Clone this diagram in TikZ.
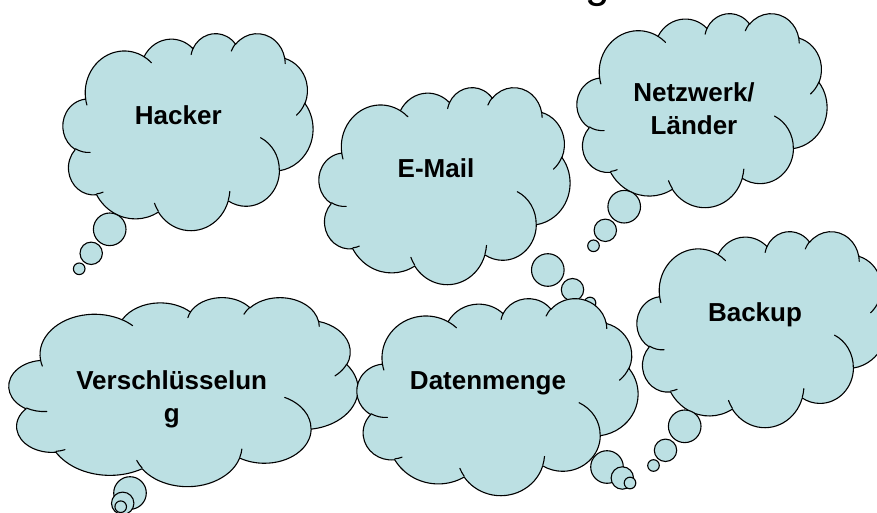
\documentclass[tikz,border=0pt]{standalone}
\usepackage{fontspec}
\setmainfont{Liberation Sans}
\definecolor{cloudfill}{RGB}{188,224,227}
\tikzset{
  cloudline/.style={draw=black, line width=1.1pt, fill=cloudfill, line join=round},
  creaseline/.style={draw=black, line width=1.1pt, line cap=round},
  tailbubble/.style={draw=black, line width=1.1pt, fill=cloudfill},
  cloudtext/.style={font=\bfseries\fontsize{26}{33}\selectfont, align=center, inner sep=0pt, text=black},
  titletext/.style={font=\fontsize{44}{50}\selectfont, inner sep=0pt, anchor=base west},
}
% cloud outline: x0 y0 w h (pixel box, y downward)
\newcommand\cloudoutline[4]{%
  \path[cloudline, shift={(#1,-#2)}, xscale=#3/43.2, yscale=-#4/43.2]
    (3.9,14.37)
    arc[start angle=172.25, end angle=300.36, x radius=6.753, y radius=9.19]
    arc[start angle=-152.02, end angle=-45.45, x radius=5.333, y radius=7.267]
    arc[start angle=-153.49, end angle=-37.33, x radius=4.365, y radius=5.945]
    arc[start angle=-139.71, end angle=-10.21, x radius=4.857, y radius=6.595]
    arc[start angle=-74.77, end angle=23.21, x radius=5.333, y radius=7.273]
    arc[start angle=-37.50, end angle=81.86, x radius=6.775, y radius=9.22]
    arc[start angle=0.46, end angle=121.98, x radius=5.785, y radius=7.867]
    arc[start angle=16.84, end angle=146.21, x radius=6.752, y radius=9.215]
    arc[start angle=58.98, end angle=150.17, x radius=7.72, y radius=10.543]
    arc[start angle=83.31, end angle=223.10, x radius=4.36, y radius=5.918]
    arc[start angle=120.36, end angle=264.11, x radius=4.345, y radius=5.945]
    -- cycle;}
\newcommand\cloudcreases[4]{%
  \path[creaseline, shift={(#1,-#2)}, xscale=#3/43.2, yscale=-#4/43.2]
    (4.693,26.177) arc[start angle=85.55, end angle=120.36, x radius=4.345, y radius=5.945]
    (6.928,34.899) arc[start angle=68.24, end angle=83.31, x radius=4.36, y radius=5.918]
    (16.478,39.09) arc[start angle=146.21, end angle=158.48, x radius=6.752, y radius=9.215]
    (28.827,34.751) arc[start angle=4.74, end angle=16.84, x radius=6.752, y radius=9.215]
    (34.129,22.954) arc[start angle=-64.03, end angle=0.46, x radius=5.785, y radius=7.867]
    (41.798,15.354) arc[start angle=23.21, end angle=49.63, x radius=5.333, y radius=7.273]
    (38.324,5.426) arc[start angle=-10.21, end angle=0.82, x radius=4.857, y radius=6.595]
    (29.078,3.952) arc[start angle=-156.29, end angle=-139.71, x radius=4.857, y radius=6.595]
    (22.141,4.72) arc[start angle=-167.73, end angle=-153.49, x radius=4.365, y radius=5.945]
    (14.0,5.192) arc[start angle=-59.64, end angle=-45.73, x radius=6.753, y radius=9.19]
    (4.127,15.789) arc[start angle=163.19, end angle=172.25, x radius=6.753, y radius=9.19];}
\newcommand\tailbubbles[6]{%
  \path[tailbubble] (#1,-#2) circle[radius=16.3];
  \path[tailbubble] (#3,-#4) circle[radius=11.2];
  \path[tailbubble] (#5,-#6) circle[radius=5.8];}
\begin{document}
\begin{tikzpicture}[x=1pt,y=1pt]
\useasboundingbox (0,0) rectangle (877,-513);
\clip (0,0) rectangle (877,-513);
\node[titletext] (titleg) at (585.5,2.5) {g};
% Hacker
\cloudoutline{63}{33}{250}{197}
\tailbubbles{109.7}{229.3}{91.2}{253.3}{79.2}{268.8}
\cloudcreases{63}{33}{250}{197}
\node[cloudtext, anchor=base] (hacker) at (178.3,-125) {Hacker};
% E-Mail
\cloudoutline{319}{87}{251}{197}
\tailbubbles{547.8}{270}{572.5}{289.7}{590}{303}
\cloudcreases{319}{87}{251}{197}
\node[cloudtext, anchor=base] (email) at (436,-177.7) {E-Mail};
% Netzwerk
\cloudoutline{577}{13}{250}{194}
\tailbubbles{624.2}{206.7}{605.3}{230.3}{593.5}{245.8}
\cloudcreases{577}{13}{250}{194}
\node[cloudtext] (netz) at (694,-108.7) {Netzwerk/\\Länder};
% Verschluesselung
\cloudoutline{9}{297}{349}{189}
\tailbubbles{130}{493}{122.7}{503.3}{120.7}{506.7}
\cloudcreases{9}{297}{349}{189}
\node[cloudtext] (versch) at (171.7,-399.7) {Verschlüsselun\\g};
% Datenmenge
\cloudoutline{357}{298}{281}{197}
\tailbubbles{607}{467}{622.3}{478}{630}{483}
\cloudcreases{357}{298}{281}{197}
\node[cloudtext, anchor=base] (daten) at (488,-389.3) {Datenmenge};
% Backup
\cloudoutline{637}{231}{250}{196}
\tailbubbles{684.7}{426.3}{665.5}{450.3}{653.5}{465.5}
\cloudcreases{637}{231}{250}{196}
\node[cloudtext, anchor=base] (backup) at (755,-321.7) {Backup};
\end{tikzpicture}
\end{document}
